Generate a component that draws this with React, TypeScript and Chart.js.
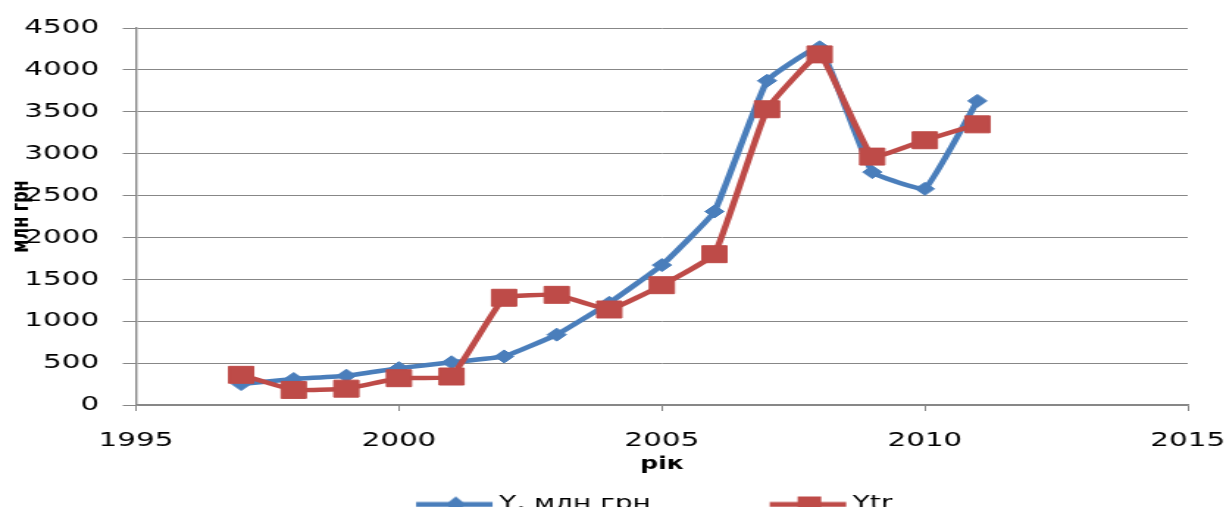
import React, { useEffect, useRef } from 'react';
import { Chart, registerables } from 'chart.js';

Chart.register(...registerables);

// the reference looks horizontally stretched, so the chart is drawn narrow and scaled in x
const STRETCH = 1.47;
const LOGICAL_W = 833;
const CANVAS_H = 524;

const years = [1997, 1998, 1999, 2000, 2001, 2002, 2003, 2004, 2005, 2006, 2007, 2008, 2009, 2010, 2011];
const yValues = [250, 310, 350, 440, 510, 580, 840, 1220, 1670, 2310, 3870, 4270, 2780, 2580, 3630];
const ytrValues = [360, 180, 195, 320, 340, 1280, 1315, 1140, 1430, 1800, 3530, 4185, 2965, 3160, 3350];
const seriesNames = ['Y, млн грн', 'Ytr'];
const seriesColors = ['#4A7EBB', '#BE4B48'];

const xRange = { min: 1995, max: 2015, step: 5 };
const yRange = { min: 0, max: 4500, step: 500 };

const FONT = 'DejaVu Sans';
const GRID = '#878787';

// legend sample: line with marker, drawn as an image so it can carry the line
function legendSample(color: string, marker: 'diamond' | 'square'): HTMLCanvasElement {
  const c = document.createElement('canvas');
  c.width = 136;
  c.height = 20;
  const ctx = c.getContext('2d')!;
  ctx.strokeStyle = color;
  ctx.fillStyle = color;
  ctx.lineWidth = 5;
  ctx.beginPath();
  ctx.moveTo(83, 10);
  ctx.lineTo(135, 10);
  ctx.stroke();
  ctx.beginPath();
  if (marker === 'diamond') {
    ctx.moveTo(110, 2);
    ctx.lineTo(117, 10);
    ctx.lineTo(110, 18);
    ctx.lineTo(103, 10);
    ctx.closePath();
    ctx.fill();
  } else {
    ctx.fillRect(102, 2, 16, 16);
  }
  return c;
}

const App: React.FC = () => {
  const canvasRef = useRef<HTMLCanvasElement>(null);
  const chartRef = useRef<Chart | null>(null);

  useEffect(() => {
    document.body.style.margin = '0';
    if (!canvasRef.current) return;

    const samples = [legendSample(seriesColors[0], 'diamond'), legendSample(seriesColors[1], 'square')];

    chartRef.current = new Chart(canvasRef.current, {
      type: 'line',
      data: {
        datasets: [
          {
            label: seriesNames[0],
            data: years.map((x, i) => ({ x, y: yValues[i] })),
            borderColor: seriesColors[0],
            backgroundColor: seriesColors[0],
            borderWidth: 4.5,
            pointStyle: 'rectRot',
            pointRadius: 6.5,
            pointBorderWidth: 1,
            pointBorderColor: seriesColors[0],
            tension: 0.1,
            order: 2,
          },
          {
            label: seriesNames[1],
            data: years.map((x, i) => ({ x, y: ytrValues[i] })),
            borderColor: seriesColors[1],
            backgroundColor: seriesColors[1],
            borderWidth: 4.5,
            pointStyle: 'rect',
            pointRadius: 12,
            pointBorderWidth: 1,
            pointBorderColor: seriesColors[1],
            tension: 0.1,
            order: 1,
          },
        ],
      },
      options: {
        responsive: true,
        maintainAspectRatio: false,
        animation: false,
        layout: { padding: { left: 5, right: 25, top: 26, bottom: 0 } },
        plugins: {
          tooltip: { enabled: false },
          legend: {
            position: 'bottom',
            labels: {
              usePointStyle: true,
              pointStyleWidth: 124,
              padding: 4,
              color: '#000',
              font: { family: FONT, size: 19 },
              sort: (a, b) => (a.datasetIndex ?? 0) - (b.datasetIndex ?? 0),
              generateLabels: (chart) =>
                Chart.defaults.plugins.legend.labels
                  .generateLabels(chart)
                  .map((item) => ({ ...item, pointStyle: samples[item.datasetIndex ?? 0] as any })),
            },
          },
        },
        scales: {
          x: {
            type: 'linear',
            min: xRange.min,
            max: xRange.max,
            afterFit: (s) => {
              s.height = 86;
              // keep the plot edge fixed; the end labels may overhang
              s.paddingLeft = 0;
              s.paddingRight = 0;
            },
            ticks: {
              stepSize: xRange.step,
              padding: 18,
              color: '#000',
              font: { family: FONT, size: 20 },
              callback: (v) => String(v),
            },
            grid: { drawOnChartArea: false, tickLength: 6, color: GRID },
            border: { color: GRID, width: 1.4 },
            title: {
              display: true,
              text: 'рік',
              color: '#000',
              font: { family: FONT, size: 17, weight: 'bold' },
              padding: { top: 0, bottom: 16 },
            },
          },
          y: {
            min: yRange.min,
            max: yRange.max,
            afterFit: (s) => {
              s.width = 87.5;
            },
            ticks: {
              stepSize: yRange.step,
              padding: 16,
              color: '#000',
              font: { family: FONT, size: 20 },
              callback: (v) => String(v),
            },
            grid: { tickLength: 9, color: GRID, lineWidth: 1 },
            border: { color: GRID, width: 1.4 },
            title: {
              display: true,
              text: 'млн грн',
              color: '#000',
              font: { family: FONT, size: 16, weight: 'bold' },
              padding: { top: 0, bottom: 0 },
            },
          },
        },
      },
    });

    return () => {
      chartRef.current?.destroy();
      chartRef.current = null;
    };
  }, []);

  return (
    <div style={{ width: 1225, height: 507, overflow: 'hidden', background: '#fff' }}>
      <div
        style={{
          width: LOGICAL_W,
          height: CANVAS_H,
          transform: `scaleX(${STRETCH})`,
          transformOrigin: '0 0',
        }}
      >
        <canvas ref={canvasRef}></canvas>
      </div>
    </div>
  );
};

export default App;
